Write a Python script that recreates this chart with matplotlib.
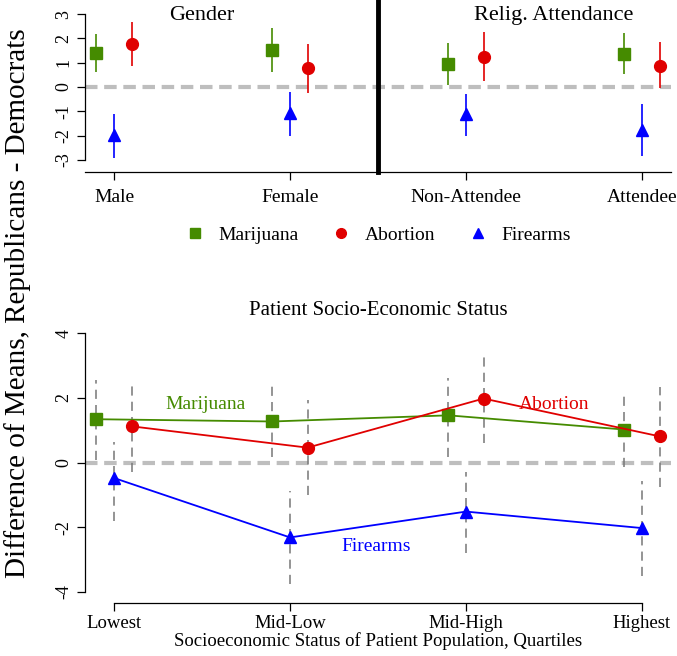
import matplotlib.pyplot as plt
import numpy as np

plt.rcParams['font.family'] = ['Liberation Serif', 'DejaVu Serif']

## data ***************************************************************************************************************

# top panel: gender / religious attendance
top_labels = ['Male', 'Female', 'Non-Attendee', 'Attendee']
top_marij = [1.41, 1.52, 0.95, 1.36]
top_marij_lo = [0.63, 0.60, 0.08, 0.52]
top_marij_hi = [2.20, 2.41, 1.80, 2.21]
top_abort = [1.78, 0.77, 1.25, 0.88]
top_abort_lo = [0.88, -0.23, 0.25, -0.05]
top_abort_hi = [2.66, 1.77, 2.28, 1.84]
top_fire = [-1.98, -1.08, -1.12, -1.77]
top_fire_lo = [-2.91, -2.02, -2.00, -2.83]
top_fire_hi = [-1.12, -0.22, -0.30, -0.70]

# bottom panel: socio-economic status quartiles
ses_labels = ['Lowest', 'Mid-Low', 'Mid-High', 'Highest']
ses_marij = [1.34, 1.27, 1.46, 1.02]
ses_marij_lo = [0.09, 0.17, 0.17, -0.15]
ses_marij_hi = [2.55, 2.39, 2.63, 2.18]
ses_abort = [1.12, 0.46, 1.98, 0.81]
ses_abort_lo = [-0.30, -1.00, 0.61, -0.75]
ses_abort_hi = [2.52, 1.93, 3.34, 2.34]
ses_fire = [-0.48, -2.32, -1.52, -2.03]
ses_fire_lo = [-1.82, -3.77, -2.79, -3.51]
ses_fire_hi = [0.63, -0.87, -0.30, -0.58]

GREEN = '#458B00'
RED = '#E00000'
BLUE = '#0000FF'
off = 0.1

## figure *************************************************************************************************************

fig = plt.figure(figsize=(6.77, 6.56), dpi=100)
ax1 = fig.add_axes([85 / 677, 1 - 172 / 656, (671 - 85) / 677, 170 / 656])
ax2 = fig.add_axes([85 / 677, 1 - 603 / 656, (671 - 85) / 677, (603 - 322) / 656])

x = np.arange(1, 5)


def style_axis(ax, ylim, yticks, xfs, xpad):
    for s in ['top', 'right']:
        ax.spines[s].set_visible(False)
    ax.set_xlim(0.835, 4.165)
    ax.set_ylim(*ylim)
    ax.set_yticks(yticks)
    ax.set_yticklabels([str(t) for t in yticks], rotation=90, va='center', fontsize=13)
    ax.tick_params(direction='out', length=6, width=0.9, pad=3)
    ax.tick_params(axis='x', labelsize=xfs, pad=xpad)
    ax.spines['left'].set_bounds(yticks[0], yticks[-1])
    ax.spines['left'].set_linewidth(0.9)
    ax.spines['bottom'].set_linewidth(0.9)
    ax.axhline(0, color='#bebebe', lw=3, ls=(0, (3, 1.6)), zorder=0)


# -- top panel
style_axis(ax1, (-3.5, 3.5), [-3, -2, -1, 0, 1, 2, 3], 14, 6)
ax1.set_xticks(x)
ax1.set_xticklabels(top_labels)
ax1.axvline(2.5, color='black', lw=3.5, ymax=1.02, clip_on=False)

for xs, y, lo, hi, c, m, ms in [(x - off, top_marij, top_marij_lo, top_marij_hi, GREEN, 's', 8),
                                (x + off, top_abort, top_abort_lo, top_abort_hi, RED, 'o', 8.5),
                                (x, top_fire, top_fire_lo, top_fire_hi, BLUE, '^', 9)]:
    ax1.vlines(xs, lo, hi, color=c, lw=1.2)
    ax1.plot(xs, y, m, color=c, ms=ms, ls='none')

ax1.text(1.5, 2.93, 'Gender', ha='center', va='center', fontsize=16)
ax1.text(3.5, 2.93, 'Relig. Attendance', ha='center', va='center', fontsize=16)

# -- legend
handles = [plt.Line2D([], [], marker='s', color=GREEN, ls='none', ms=7),
           plt.Line2D([], [], marker='o', color=RED, ls='none', ms=7),
           plt.Line2D([], [], marker='^', color=BLUE, ls='none', ms=7)]
fig.legend(handles, ['Marijuana', 'Abortion', 'Firearms'], loc='center', bbox_to_anchor=(377 / 677, 1 - 235 / 656),
           ncol=3, frameon=False, fontsize=14, handletextpad=0.6, columnspacing=1.6, handlelength=1.2)

# -- bottom panel
style_axis(ax2, (-4.35, 4.35), [-4, -2, 0, 2, 4], 13.5, 3)
ax2.set_xticks(x)
ax2.set_xticklabels(ses_labels)
ax2.spines['bottom'].set_bounds(1, 4)

for xs, y, lo, hi, c, m, ms in [(x - off, ses_marij, ses_marij_lo, ses_marij_hi, GREEN, 's', 8),
                                (x + off, ses_abort, ses_abort_lo, ses_abort_hi, RED, 'o', 8.5),
                                (x, ses_fire, ses_fire_lo, ses_fire_hi, BLUE, '^', 9)]:
    ax2.vlines(xs, lo, hi, color='#777777', lw=1.1, linestyles=(0, (6, 4)), zorder=1)
    ax2.plot(xs, y, color=c, lw=1.3, marker=m, ms=ms, zorder=3)

ax2.text(1.52, 1.8, 'Marijuana', color=GREEN, ha='center', va='center', fontsize=14)
ax2.text(3.5, 1.8, 'Abortion', color=RED, ha='center', va='center', fontsize=14)
ax2.text(2.49, -2.59, 'Firearms', color=BLUE, ha='center', va='center', fontsize=14)
ax2.set_title('Patient Socio-Economic Status', fontsize=15, pad=5)
ax2.set_xlabel('Socioeconomic Status of Patient Population, Quartiles', fontsize=13.5, labelpad=0)

fig.text(18 / 677, 1 - 303 / 656, 'Difference of Means, Republicans - Democrats', rotation=90,
         ha='center', va='center', fontsize=21)

fig.savefig('out.png', dpi=100)
